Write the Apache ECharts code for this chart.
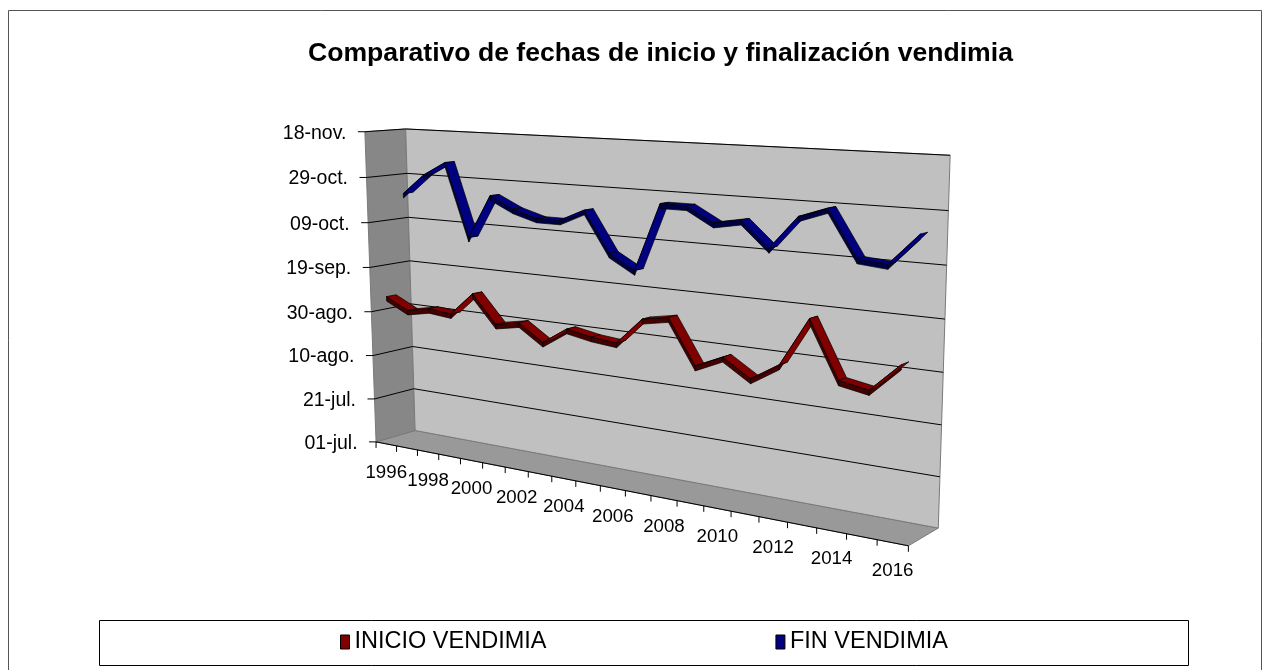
<!DOCTYPE html>
<html>
<head>
<meta charset="utf-8">
<script src="https://cdn.jsdelivr.net/npm/echarts@6/dist/echarts.min.js"></script>
<style>
  html, body { margin: 0; padding: 0; background: #fff; }
  #chart { width: 1269px; height: 670px; }
</style>
</head>
<body>
<div id="chart"></div>
<script>
const years = ['1996', '1997', '1998', '1999', '2000', '2001', '2002', '2003', '2004', '2005', '2006',
               '2007', '2008', '2009', '2010', '2011', '2012', '2013', '2014', '2015', '2016'];
// dd-mm
const inicio = ['06-09', '01-09', '03-09', '02-09', '12-09', '31-08', '02-09', '26-08', '02-09', '31-08', '30-08',
                '10-09', '12-09', '25-08', '30-08', '23-08', '30-08', '18-09', '27-08', '25-08', '05-09'];
const fin = ['21-10', '30-10', '05-11', '04-10', '23-10', '18-10', '15-10', '15-10', '20-10', '03-10', '27-09',
             '25-10', '25-10', '19-10', '21-10', '11-10', '24-10', '28-10', '10-10', '09-10', '21-10'];
const yLabels = ['01-jul.', '21-jul.', '10-ago.', '30-ago.', '19-sep.', '09-oct.', '29-oct.', '18-nov.'];
const yTicks = [0, 20, 40, 60, 80, 100, 120, 140];

const FONT = '"Liberation Sans", Arial, sans-serif';

// days counted from 1 July
function season(s) {
  const [d, m] = s.split('-').map(Number);
  return Math.round((Date.UTC(2001, m - 1, d) - Date.UTC(2001, 6, 1)) / 86400000);
}

// 3d box (u across categories, v up the value axis, w front->back) as it sits on the page
const calib = [
  [0, 0, 0, 376.7, 442], [5 / 21, 0, 0, 483.3, 462.8], [11 / 21, 0, 0, 626, 490.7],
  [16 / 21, 0, 0, 758.3, 516.6], [1, 0, 0, 908.3, 546], [0, 1, 0, 365, 132], [0, 3 / 7, 0, 370, 311],
  [0, 0, 1, 415, 430], [1, 0, 1, 938, 528], [0, 1, 1, 407, 129], [1, 1, 1, 950, 155],
  [0, 4 / 7, 1, 408, 261], [1, 4 / 7, 1, 945, 319], [0, 2 / 7, 1, 413, 347], [1, 2 / 7, 1, 942, 425]
];

function fitCamera(pts) {
  const A = [], b = [];
  pts.forEach(([u, v, w, px, py]) => {
    const x = (px - 640) / 500, y = (py - 340) / 500;
    A.push([u, v, w, 1, 0, 0, 0, 0, -x * u, -x * v, -x * w]); b.push(x);
    A.push([0, 0, 0, 0, u, v, w, 1, -y * u, -y * v, -y * w]); b.push(y);
  });
  const n = 11, M = [];
  for (let i = 0; i < n; i++) {
    M.push(new Array(n + 1).fill(0));
    for (let k = 0; k < A.length; k++) {
      for (let j = 0; j < n; j++) M[i][j] += A[k][i] * A[k][j];
      M[i][n] += A[k][i] * b[k];
    }
  }
  for (let c = 0; c < n; c++) {
    let p = c;
    for (let r = c + 1; r < n; r++) if (Math.abs(M[r][c]) > Math.abs(M[p][c])) p = r;
    [M[c], M[p]] = [M[p], M[c]];
    for (let r = 0; r < n; r++) {
      if (r === c) continue;
      const f = M[r][c] / M[c][c];
      for (let k = c; k <= n; k++) M[r][k] -= f * M[c][k];
    }
  }
  return M.map((row, i) => row[n] / row[i]);
}
const cam = fitCamera(calib);

function P(u, v, w) {
  const d = cam[8] * u + cam[9] * v + cam[10] * w + 1;
  const x = (cam[0] * u + cam[1] * v + cam[2] * w + cam[3]) / d;
  const y = (cam[4] * u + cam[5] * v + cam[6] * w + cam[7]) / d;
  return [x * 500 + 640, y * 500 + 340];
}

// pixel from the cartesian grid -> [u, v] in the box
function toBox(cs, pt) {
  return [(pt[0] - cs.x) / cs.width, (cs.y + cs.height - pt[1]) / cs.height];
}

function renderWalls(params, api) {
  const poly = (pts, fill) => ({
    type: 'polygon', shape: { points: pts.map(p => P(p[0], p[1], p[2])) },
    style: { fill: fill, stroke: '#7a7a7a', lineWidth: 1 }
  });
  return {
    type: 'group',
    children: [
      poly([[0, 0, 0], [1, 0, 0], [1, 0, 1], [0, 0, 1]], '#999999'),
      poly([[0, 0, 0], [0, 1, 0], [0, 1, 1], [0, 0, 1]], '#878787'),
      poly([[0, 0, 1], [1, 0, 1], [1, 1, 1], [0, 1, 1]], '#c0c0c0')
    ]
  };
}

function renderGridLine(params, api) {
  const cs = params.coordSys;
  const v = toBox(cs, api.coord([0, api.value(1)]))[1];
  const front = P(0, v, 0), back = P(0, v, 1), right = P(1, v, 1);
  const children = [{
    type: 'line', shape: { x1: front[0] - 7, y1: front[1], x2: front[0], y2: front[1] },
    style: { stroke: '#000', lineWidth: 1 }
  }, {
    type: 'text', x: front[0] - 18.5, y: front[1] + 1.5,
    style: { text: yLabels[params.dataIndex], fill: '#000', font: '19.5px ' + FONT, align: 'right', verticalAlign: 'middle' }
  }];
  if (api.value(1) > 0) {
    children.push({
      type: 'polyline', shape: { points: [front, back, right] },
      style: { stroke: '#000', lineWidth: 1, fill: null }
    });
  }
  return { type: 'group', children: children };
}

function renderCategory(params, api) {
  const cs = params.coordSys;
  const i = params.dataIndex;
  const c = toBox(cs, api.coord([i, 0]))[0];
  const half = api.size([1, 0])[0] / 2 / cs.width;
  const children = [];
  const tick = (u) => {
    const p = P(u, 0, 0);
    children.push({ type: 'line', shape: { x1: p[0], y1: p[1], x2: p[0], y2: p[1] + 6 },
      style: { stroke: '#000', lineWidth: 1 } });
  };
  tick(c - half);
  if (i === years.length - 1) tick(c + half);
  if (i === 0) {
    const a = P(0, 0, 0), b = P(1, 0, 0);
    children.push({ type: 'line', shape: { x1: a[0], y1: a[1], x2: b[0], y2: b[1] },
      style: { stroke: '#000', lineWidth: 1 } });
  }
  if (i % 2 === 0) {
    const p = P(c, 0, 0);
    children.push({ type: 'text', x: p[0], y: p[1] + 28.5,
      style: { text: years[i], fill: '#000', font: '18.7px ' + FONT, align: 'center', verticalAlign: 'middle' } });
  }
  return { type: 'group', children: children };
}

function ribbon(values, depth, top, side) {
  const half = 0.12, thick = 2;
  return function (params, api) {
    const i = params.dataIndex;
    if (i >= values.length - 1) return null;
    const cs = params.coordSys;
    const v0 = api.value(1), v1 = values[i + 1];
    const a = toBox(cs, api.coord([i, v0])), b = toBox(cs, api.coord([i + 1, v1]));
    const a2 = toBox(cs, api.coord([i, v0 - thick])), b2 = toBox(cs, api.coord([i + 1, v1 - thick]));
    const wf = depth - half, wb = depth + half;
    const sideFace = [P(a[0], a[1], wf), P(b[0], b[1], wf), P(b2[0], b2[1], wf), P(a2[0], a2[1], wf)];
    const topFace = [P(a[0], a[1], wf), P(b[0], b[1], wf), P(b[0], b[1], wb), P(a[0], a[1], wb)];
    return {
      type: 'group',
      children: [
        { type: 'polygon', shape: { points: sideFace }, style: { fill: side, stroke: '#000', lineWidth: 0.7 } },
        { type: 'polygon', shape: { points: topFace }, style: { fill: top, stroke: '#000', lineWidth: 0.7 } }
      ]
    };
  };
}

const inicioDays = inicio.map(season);
const finDays = fin.map(season);

const chart = echarts.init(document.getElementById('chart'), null, { renderer: 'canvas' });
chart.setOption({
  backgroundColor: '#fff',
  animation: false,
  title: {
    text: 'Comparativo de fechas de inicio y finalización vendimia',
    left: 308, top: 40, padding: 0,
    textStyle: { fontSize: 26.6, fontWeight: 'bold', color: '#000', fontFamily: FONT }
  },
  legend: {
    data: ['INICIO VENDIMIA', 'FIN VENDIMIA'],
    left: 340, top: 630, padding: 0,
    icon: 'rect', itemWidth: 9, itemHeight: 14, itemGap: 229,
    itemStyle: { borderColor: '#000', borderWidth: 1 },
    textStyle: { fontSize: 23.5, color: '#000', fontFamily: FONT }
  },
  graphic: [
    { type: 'rect', shape: { x: 8.5, y: 10.5, width: 1253, height: 700 },
      style: { fill: null, stroke: '#555', lineWidth: 1 }, z: -1 },
    { type: 'rect', shape: { x: 99.5, y: 620.5, width: 1089, height: 45 },
      style: { fill: null, stroke: '#000', lineWidth: 1 } }
  ],
  grid: { left: 370, top: 132, width: 540, height: 310 },
  xAxis: { type: 'category', data: years, boundaryGap: true, show: false },
  yAxis: {
    type: 'value', min: 0, max: 140, interval: 20, show: false
  },
  series: [
    { type: 'custom', name: 'walls', data: [[0, 0]], renderItem: renderWalls, z: 1, silent: true, clip: false },
    { type: 'custom', name: 'grid', data: yTicks.map(t => [0, t]), renderItem: renderGridLine, z: 2, silent: true, clip: false },
    { type: 'custom', name: 'years', data: years.map((y, i) => [i, 0]), renderItem: renderCategory, z: 2, silent: true, clip: false },
    {
      type: 'custom', name: 'FIN VENDIMIA', data: finDays.map((d, i) => [i, d]),
      renderItem: ribbon(finDays, 0.75, '#000080', '#000045'), itemStyle: { color: '#000080' }, z: 3, clip: false
    },
    {
      type: 'custom', name: 'INICIO VENDIMIA', data: inicioDays.map((d, i) => [i, d]),
      renderItem: ribbon(inicioDays, 0.25, '#800000', '#450000'), itemStyle: { color: '#800000' }, z: 4, clip: false
    }
  ]
});
</script>
</body>
</html>
